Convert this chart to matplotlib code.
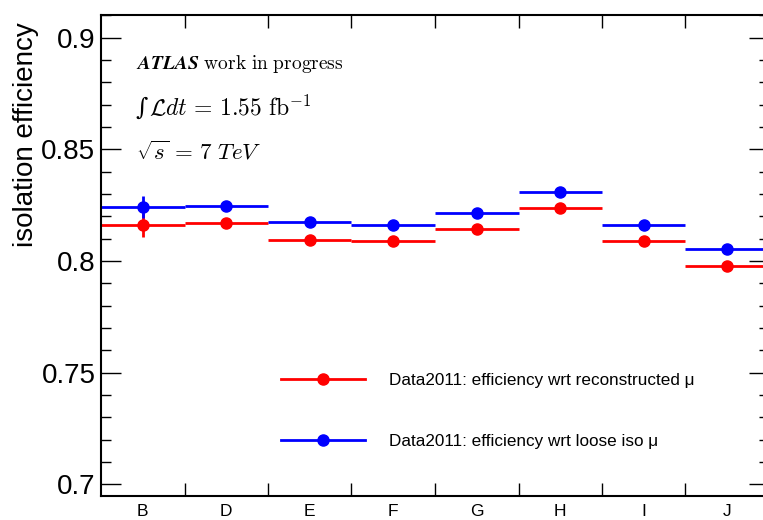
import numpy as np
import matplotlib
matplotlib.use("Agg")
import matplotlib.pyplot as plt
from matplotlib.lines import Line2D
from matplotlib.ticker import MultipleLocator, FixedLocator, NullFormatter

plt.rcParams['font.family'] = ['Liberation Sans', 'DejaVu Sans']
plt.rcParams['mathtext.fontset'] = 'cm'

periods = ['B', 'D', 'E', 'F', 'G', 'H', 'I', 'J']
eff_reco = [0.8161, 0.8172, 0.8094, 0.8090, 0.8143, 0.8239, 0.8090, 0.7976]
err_reco = [0.0053, 0.0008, 0.0006, 0.0006, 0.0006, 0.0006, 0.0006, 0.0006]
eff_loose = [0.8243, 0.8246, 0.8176, 0.8161, 0.8214, 0.8309, 0.8161, 0.8052]
err_loose = [0.0048, 0.0008, 0.0006, 0.0006, 0.0006, 0.0006, 0.0006, 0.0006]

label_reco = 'Data2011: efficiency wrt reconstructed μ'
label_loose = 'Data2011: efficiency wrt loose iso μ'

fig = plt.figure(figsize=(7.63, 5.20), dpi=100)
ax = fig.add_axes([101 / 763, 24 / 520, 668 / 763, 481 / 520])

x = np.arange(len(periods)) + 0.5
ax.errorbar(x, eff_reco, xerr=0.5, yerr=err_reco, fmt='o', color='red',
            ms=8, lw=2, elinewidth=2, capsize=0)
ax.errorbar(x, eff_loose, xerr=0.5, yerr=err_loose, fmt='o', color='blue',
            ms=8, lw=2, elinewidth=2, capsize=0)

ax.set_xlim(0, len(periods))
ax.set_ylim(0.6948, 0.9102)

# x: bin edges get tick marks, centres get the labels
ax.xaxis.set_major_locator(FixedLocator(np.arange(1, len(periods))))
ax.xaxis.set_major_formatter(NullFormatter())
ax.xaxis.set_minor_locator(FixedLocator(x))
ax.set_xticklabels(periods, minor=True)
ax.tick_params(axis='x', which='major', direction='in', length=9.5, width=1,
               top=True, bottom=True)
ax.tick_params(axis='x', which='minor', length=0, pad=6, labelsize=12.5)

ax.set_yticks([0.7, 0.75, 0.8, 0.85, 0.9])
ax.set_yticklabels(['0.7', '0.75', '0.8', '0.85', '0.9'])
ax.yaxis.set_minor_locator(MultipleLocator(0.01))
ax.tick_params(axis='y', which='major', direction='in', length=14.5, width=1,
               left=True, right=True, labelsize=20, pad=4)
ax.tick_params(axis='y', which='minor', direction='in', length=7.5, width=1,
               left=True, right=True)

for s in ax.spines.values():
    s.set_linewidth(1.5)

ax.set_ylabel('isolation efficiency', fontsize=20)
ax.yaxis.label.set_horizontalalignment('right')
ax.yaxis.set_label_coords(-0.093, 0.985)

ax.text(0.053, 0.898, r'$\mathbfit{ATLAS}\ \mathrm{work\ in\ progress}$',
        transform=ax.transAxes, fontsize=14, va='center')
integ = ax.text(0.051, 0.806, '∫', transform=ax.transAxes, fontsize=17,
                va='center', family='DejaVu Serif', style='italic')
ax.annotate(r'$\mathcal{L}dt\,=\,1.55\ \mathrm{fb}^{-1}$', xy=(1, 0.5),
            xycoords=integ, xytext=(1, 0), textcoords='offset points',
            fontsize=17, va='center')
ax.text(0.053, 0.713, r'$\sqrt{s}\,=\,7\ TeV$',
        transform=ax.transAxes, fontsize=16.5, va='center')

handles = [Line2D([], [], color='red', marker='o', ms=8, lw=2),
           Line2D([], [], color='blue', marker='o', ms=8, lw=2)]
ax.legend(handles, [label_reco, label_loose], loc='upper left',
          bbox_to_anchor=(0.259, 0.27), frameon=False, fontsize=12.3,
          handlelength=4.9, handletextpad=1.45, labelspacing=2.7,
          borderaxespad=0)

fig.savefig('out.png', dpi=100)
